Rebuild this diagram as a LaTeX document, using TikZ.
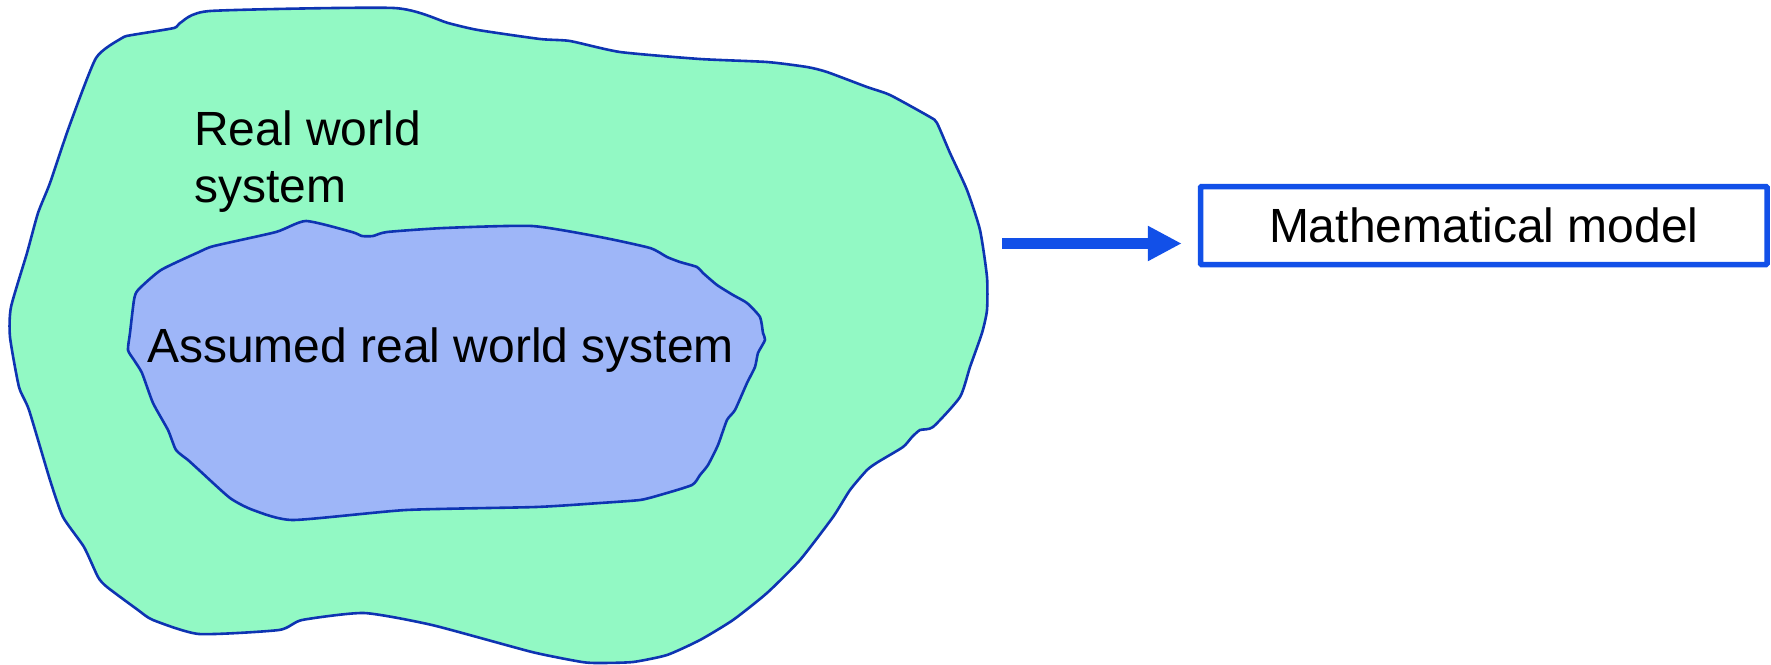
\documentclass[tikz,border=0pt]{standalone}
\usepackage{fontspec}
\setmainfont{Liberation Sans}
\usetikzlibrary{arrows.meta,calc}
\definecolor{outerfill}{RGB}{146,249,196}
\definecolor{innerfill}{RGB}{158,182,248}
\definecolor{blobline}{RGB}{14,52,178}
\definecolor{boxblue}{RGB}{18,80,232}
\tikzset{
  blob/.style={draw=blobline, line width=2.6pt, line join=round},
  lbl/.style={inner sep=0pt, font=\fontsize{48}{57}\selectfont, text=black},
  modelbox/.style={draw=boxblue, line width=5.5pt, fill=white, minimum width=566.5pt,
     minimum height=78pt, inner sep=0pt, rounded corners=1pt, font=\fontsize{48}{57}\selectfont},
  bigarrow/.style={draw=boxblue, line width=11pt, -{Triangle[length=34pt,width=33pt]}}
}
\begin{document}
\begin{tikzpicture}[x=1pt,y=-1pt]
\useasboundingbox (0,0) rectangle (1771,664);
% outer blob: real world system
\filldraw[blob, fill=outerfill] plot[smooth cycle, tension=0.35] coordinates {
 (96,58) (122,38) (132,35) (174,28) (180,23) (210,11) (394,8) (448,23) (478,30)
 (540,39) (570,41) (620,52) (700,59) (767,62) (807,67) (827,72) (867,87) (890,95)
 (930,117) (937,123) (950,153) (967,190) (980,230) (987,277) (987,310) (982,333)
 (970,367) (960,397) (933,427) (920,430) (912,437) (903,447) (878,462) (867,470)
 (850,490) (833,517) (800,560) (767,593) (733,620) (700,640) (667,655) (633,662)
 (600,663) (582,662) (532,652) (432,625) (364,613) (302,620) (279,630) (199,634)
 (153,620) (138,610) (107,587) (98,577) (84,547) (63,517) (50,480) (29,410)
 (19,387) (10,337) (11,307) (27,253) (38,213) (50,183) (69,127)};
% inner blob: assumed real world system
\filldraw[blob, fill=innerfill] plot[smooth cycle, tension=0.35] coordinates {
 (134,300) (138,290) (161,270) (199,252) (214,246) (276,232) (306,221) (352,232)
 (362,236) (373,236) (387,232) (444,228) (532,226) (600,237) (650,248) (667,257)
 (680,262) (697,267) (703,273) (717,285) (733,295) (747,303) (760,317) (763,333)
 (765,340) (758,353) (755,367) (747,383) (735,410) (727,420) (718,445) (708,465)
 (700,475) (692,485) (660,495) (640,500) (600,503) (536,507) (406,510) (293,520)
 (253,510) (230,498) (199,470) (188,460) (176,450) (168,430) (153,403) (142,373)
 (134,360) (128,350) (130,333)};
\node[lbl, anchor=base west] (rw1) at (194,145) {Real world};
\node[lbl, anchor=base west] (rw2) at (194,202) {system};
\node[lbl, anchor=base west] (arw) at (147,362) {Assumed real world system};
\node[modelbox] (mm) at (1483.75,225.5) {Mathematical model};
\coordinate (astart) at (1002,243.5);
\draw[bigarrow, shorten >=16pt] (astart) -- (astart -| mm.west);
\end{tikzpicture}
\end{document}
